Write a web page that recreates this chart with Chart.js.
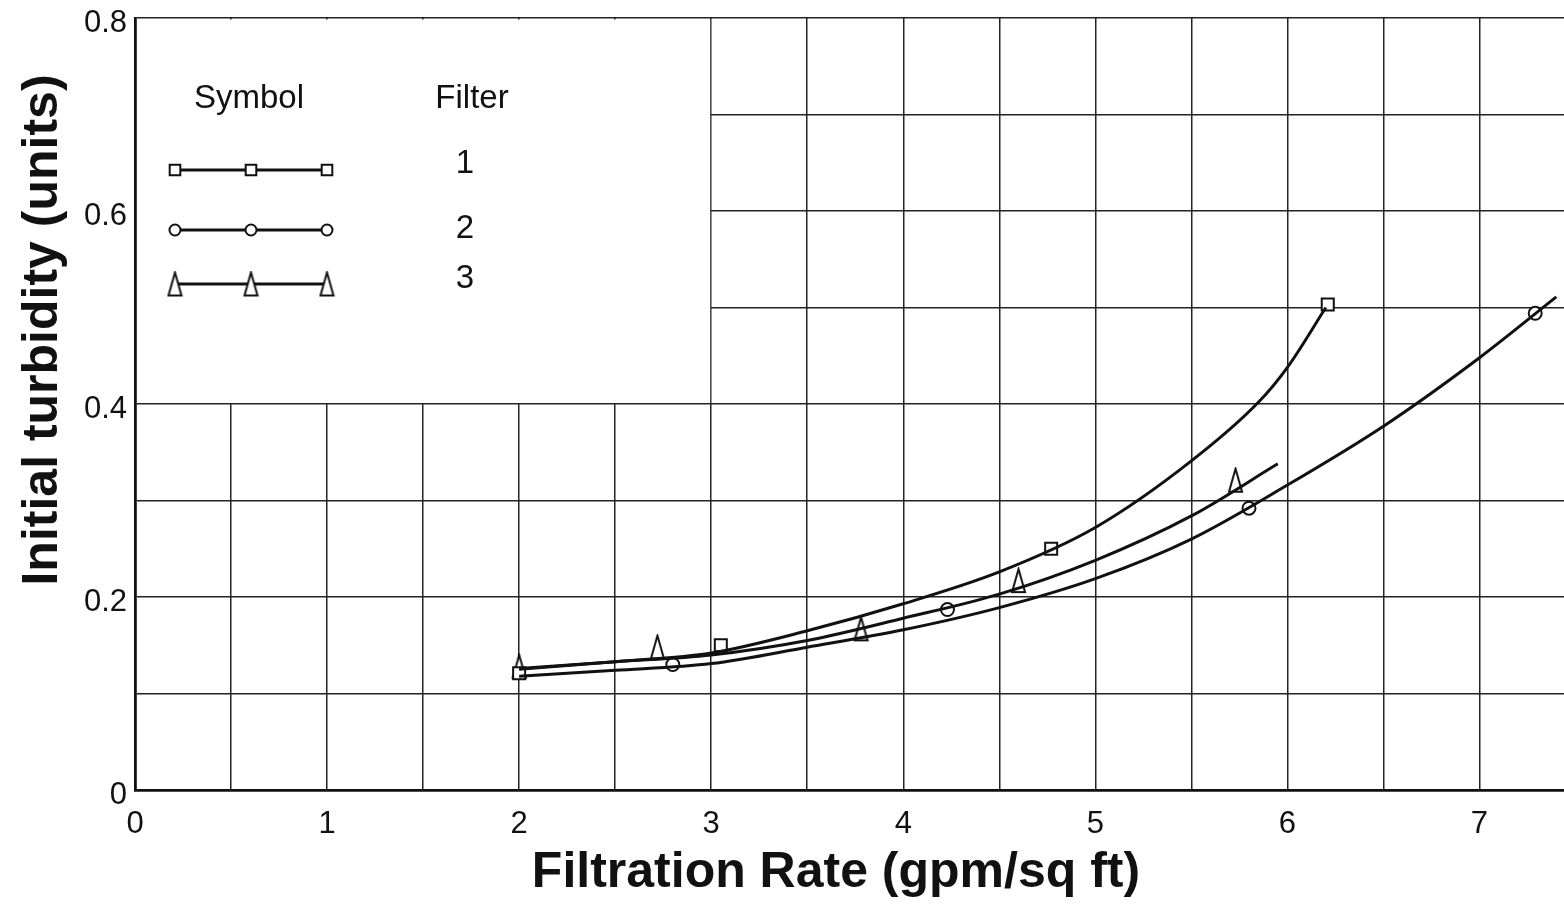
<!DOCTYPE html>
<html>
<head>
<meta charset="utf-8">
<title>Initial turbidity vs filtration rate</title>
<script src="https://cdn.jsdelivr.net/npm/chart.js@4.4.1/dist/chart.umd.min.js"></script>
<style>
  html, body { margin: 0; padding: 0; background: #fff; }
  #wrap { position: relative; width: 1564px; height: 908px; }
</style>
</head>
<body>
<div id="wrap"><canvas id="turb-chart"></canvas></div>
<script>
(function () {
  'use strict';

  // Fitted curves (x = gpm/sq ft, y = turbidity units)
  var curve1X = [2.0, 2.5, 3.0, 3.5, 4.0, 4.5, 5.0, 5.5, 5.85, 6.0, 6.2];
  var curve1Y = [0.125, 0.133, 0.142, 0.165, 0.193, 0.226, 0.272, 0.341, 0.402, 0.438, 0.500];

  var curve2X = [2.0, 2.5, 3.0, 3.5, 4.0, 4.5, 5.0, 5.5, 6.0, 6.5, 7.0, 7.4];
  var curve2Y = [0.118, 0.124, 0.131, 0.148, 0.166, 0.189, 0.219, 0.260, 0.316, 0.377, 0.448, 0.511];

  var curve3X = [2.0, 2.5, 3.0, 3.5, 4.0, 4.5, 5.0, 5.5, 5.95];
  var curve3Y = [0.126, 0.133, 0.140, 0.155, 0.178, 0.203, 0.238, 0.284, 0.338];

  // Measured points
  var filter1X = [2.0, 3.05, 4.77, 6.21];
  var filter1Y = [0.121, 0.150, 0.250, 0.503];

  var filter2X = [2.8, 4.23, 5.80, 7.29];
  var filter2Y = [0.130, 0.187, 0.292, 0.494];

  var filter3X = [2.0, 2.72, 3.78, 4.60, 5.73];
  var filter3Y = [0.128, 0.148, 0.167, 0.217, 0.321];

  var filterNames = ['1', '2', '3'];

  // Tick labels
  var xTickValues = [0, 1, 2, 3, 4, 5, 6, 7];
  var xTickText   = ['0', '1', '2', '3', '4', '5', '6', '7'];
  var yTickValues = [0, 0.2, 0.4, 0.6, 0.8];
  var yTickText   = ['0', '0.2', '0.4', '0.6', '0.8'];

  var xTitle = 'Filtration Rate (gpm/sq ft)';
  var yTitle = 'Initial turbidity (units)';
  var legendHead = ['Symbol', 'Filter'];

  var FONT = "'Liberation Sans', Arial, sans-serif";
  var INK  = '#111111';

  function pairs(xs, ys) {
    return xs.map(function (x, i) { return { x: x, y: ys[i] }; });
  }

  // label only the listed ticks; '' keeps the grid line of the others
  function lookup(values, texts, v) {
    for (var i = 0; i < values.length; i++) {
      if (Math.abs(values[i] - v) < 1e-6) return texts[i];
    }
    return '';
  }

  // tall narrow open triangle used as a marker
  function makeTriangle(w, h, lw) {
    var c = document.createElement('canvas');
    c.width = w + lw * 2;
    c.height = h + lw * 2;
    var g = c.getContext('2d');
    g.beginPath();
    g.moveTo(c.width / 2, lw);
    g.lineTo(c.width - lw, c.height - lw);
    g.lineTo(lw, c.height - lw);
    g.closePath();
    g.fillStyle = '#fff';
    g.fill();
    g.lineWidth = lw;
    g.strokeStyle = INK;
    g.stroke();
    return c;
  }

  var triMark = makeTriangle(13, 23, 2);

  function curveSet(xs, ys) {
    return {
      data: pairs(xs, ys),
      showLine: true,
      borderColor: INK,
      borderWidth: 3,
      pointRadius: 0,
      pointHoverRadius: 0,
      cubicInterpolationMode: 'monotone',
      fill: false
    };
  }

  function markSet(xs, ys, style, radius) {
    return {
      data: pairs(xs, ys),
      showLine: false,
      pointStyle: style,
      pointRadius: radius,
      pointBackgroundColor: '#fff',
      pointBorderColor: INK,
      pointBorderWidth: 2
    };
  }

  var styles = ['rect', 'circle', triMark];
  var radii  = [8.5, 6.5, 8];

  // white legend panel, legend and axis titles
  var paperPlugin = {
    id: 'paper',
    beforeDatasetsDraw: function (chart) {
      var ctx = chart.ctx;
      var xs = chart.scales.x, ys = chart.scales.y;
      var l = xs.getPixelForValue(0) + 2;
      var r = xs.getPixelForValue(3) - 1;
      var t = ys.getPixelForValue(0.8) + 1.5;
      var b = ys.getPixelForValue(0.4) - 1;
      ctx.save();
      ctx.fillStyle = '#fff';
      ctx.fillRect(l, t, r - l, b - t);
      ctx.restore();
    },
    afterDraw: function (chart) {
      var ctx = chart.ctx;
      var left = chart.chartArea.left;
      ctx.save();
      ctx.fillStyle = INK;
      ctx.strokeStyle = INK;

      // legend heading
      ctx.font = '33px ' + FONT;
      ctx.textAlign = 'center';
      ctx.textBaseline = 'middle';
      ctx.fillText(legendHead[0], left + 114, 99);
      ctx.fillText(legendHead[1], left + 337, 99);

      var rowY = [170, 230, 284];
      var numY = [164, 229, 279];
      var markX = [40, 116, 192];
      for (var i = 0; i < 3; i++) {
        ctx.lineWidth = 2.8;
        ctx.beginPath();
        ctx.moveTo(left + markX[0], rowY[i]);
        ctx.lineTo(left + markX[2], rowY[i]);
        ctx.stroke();
        ctx.fillStyle = '#fff';
        ctx.lineWidth = 2;
        for (var k = 0; k < markX.length; k++) {
          Chart.helpers.drawPoint(ctx, {
            pointStyle: styles[i], radius: radii[i] - 1, borderWidth: 2, rotation: 0
          }, left + markX[k], rowY[i]);
        }
        ctx.fillStyle = INK;
        ctx.font = '33px ' + FONT;
        ctx.fillText(filterNames[i], left + 330, numY[i]);
      }

      // axis titles
      ctx.font = 'bold 50px ' + FONT;
      ctx.textAlign = 'center';
      ctx.textBaseline = 'alphabetic';
      ctx.fillText(xTitle, 836, 887);

      ctx.translate(57, 330);
      ctx.rotate(-Math.PI / 2);
      ctx.fillText(yTitle, 0, 0);
      ctx.restore();
    }
  };

  var datasets = [
    curveSet(curve1X, curve1Y),
    curveSet(curve2X, curve2Y),
    curveSet(curve3X, curve3Y),
    markSet(filter1X, filter1Y, styles[0], radii[0]),
    markSet(filter2X, filter2Y, styles[1], radii[1]),
    markSet(filter3X, filter3Y, styles[2], radii[2])
  ];

  new Chart(document.getElementById('turb-chart'), {
    type: 'scatter',
    data: { datasets: datasets },
    plugins: [paperPlugin],
    options: {
      responsive: true,
      maintainAspectRatio: false,
      animation: false,
      layout: { autoPadding: false, padding: { top: 18, right: 0, left: 0, bottom: 0 } },
      plugins: {
        legend: { display: false },
        tooltip: { enabled: false }
      },
      scales: {
        x: {
          type: 'linear',
          min: 0,
          max: 7.44,
          afterFit: function (s) { s.height = 118; s.paddingLeft = 0; s.paddingRight = 0; },
          grid: { color: '#222', lineWidth: 1.5, drawTicks: false },
          border: { color: INK, width: 2.8 },
          ticks: {
            stepSize: 0.5,
            includeBounds: false,
            autoSkip: false,
            maxRotation: 0,
            padding: 16,
            color: INK,
            font: { family: FONT, size: 31 },
            callback: function (v) { return lookup(xTickValues, xTickText, v); }
          }
        },
        y: {
          type: 'linear',
          min: 0,
          max: 0.8,
          afterFit: function (s) { s.width = 135; s.paddingTop = 0; s.paddingBottom = 0; },
          grid: { color: '#222', lineWidth: 1.5, drawTicks: false },
          border: { color: INK, width: 2.8 },
          ticks: {
            stepSize: 0.1,
            autoSkip: false,
            padding: 8,
            labelOffset: 5,
            color: INK,
            font: { family: FONT, size: 31 },
            callback: function (v) { return lookup(yTickValues, yTickText, v); }
          }
        }
      }
    }
  });
})();
</script>
</body>
</html>
